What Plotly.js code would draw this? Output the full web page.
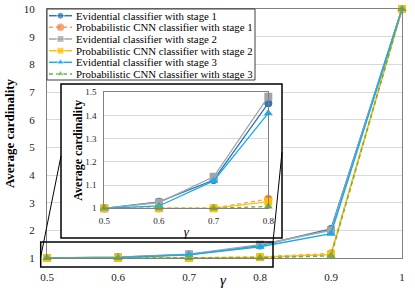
<!DOCTYPE html>
<html>
<head>
<meta charset="utf-8">
<script src="https://cdn.plot.ly/plotly-3.0.1.min.js"></script>
<style>html,body{margin:0;padding:0;background:#fff;}#chart{width:415px;height:296px;}</style>
</head>
<body>
<div id="chart"></div>
<script>
// ---- data ----
const gamma = [0.5, 0.6, 0.7, 0.8, 0.9, 1.0];
const gammaLabels = ["0.5", "0.6", "0.7", "0.8", "0.9", "1"];
const seriesNames = [
  "Evidential classifier with stage 1",
  "Probabilistic CNN classifier with stage 1",
  "Evidential classifier with stage 2",
  "Probabilistic CNN classifier with stage 2",
  "Evidential classifier with stage 3",
  "Probabilistic CNN classifier with stage 3"
];
const evidentialStage1 = [1.0, 1.028, 1.122, 1.453, 2.05, 10];
const probabilisticStage1 = [1.0, 1.0, 1.001, 1.040, 1.16, 10];
const evidentialStage2 = [1.0, 1.025, 1.136, 1.481, 2.0, 10];
const probabilisticStage2 = [1.0, 1.0, 1.0, 1.029, 1.13, 10];
const evidentialStage3 = [1.0, 1.010, 1.118, 1.410, 1.88, 10];
const probabilisticStage3 = [1.0, 1.0, 1.0, 1.008, 1.08, 10];
const insetGamma = [0.5, 0.6, 0.7, 0.8];
const insetLabels = ["0.5", "0.6", "0.7", "0.8"];
const mainYTicks = [1, 2, 3, 4, 5, 6, 7, 8, 9, 10];
const mainYLabels = ["1", "2", "3", "4", "5", "6", "7", "8", "9", "10"];
const insetYTicks = [1, 1.1, 1.2, 1.3, 1.4, 1.5];
const insetYLabels = ["1", "1.1", "1.2", "1.3", "1.4", "1.5"];
const xTitle = "γ";
const yTitle = "Average cardinality";

// ---- styles ----
const allSeries = [evidentialStage1, probabilisticStage1, evidentialStage2, probabilisticStage2, evidentialStage3, probabilisticStage3];
const styles = [
  {color: "#2e75b6", symbol: "circle", dash: "solid"},
  {color: "#f4a06a", symbol: "circle", dash: "4px,3px", mcolor: "#ed7d31"},
  {color: "#a5a5a5", symbol: "square", dash: "solid"},
  {color: "#ffc000", symbol: "square", dash: "solid"},
  {color: "#16aaf0", symbol: "triangle-up", dash: "solid"},
  {color: "#70ad47", symbol: "triangle-up", dash: "4px,3px"}
];

const W = 415, H = 296, ML = 47, MR = 13, MT = 9, MB = 38;
const PW = W - ML - MR, PH = H - MT - MB;
const px = x => (x - ML) / PW;
const py = y => (H - MB - y) / PH;
const serif = "'Liberation Serif', 'Times New Roman', serif";

const traces = [];
allSeries.forEach((vals, i) => {
  const s = styles[i];
  traces.push({
    x: gamma, y: vals, xaxis: "x", yaxis: "y", type: "scatter", mode: "lines+markers",
    name: seriesNames[i], showlegend: false, cliponaxis: false, hoverinfo: "skip",
    line: {color: s.color, width: 1.5, dash: s.dash},
    marker: {color: s.mcolor || s.color, symbol: s.symbol, size: 8}
  });
});
// inset traces
allSeries.forEach((vals, i) => {
  const s = styles[i];
  traces.push({
    x: insetGamma, y: vals.slice(0, insetGamma.length), xaxis: "x3", yaxis: "y3", type: "scatter", mode: "lines+markers",
    name: seriesNames[i], showlegend: false, cliponaxis: false, hoverinfo: "skip",
    line: {color: s.color, width: 1.3, dash: s.dash},
    marker: {color: s.mcolor || s.color, symbol: s.symbol, size: 8}
  });
});
// cover subplot (white background for the inset box)
traces.push({x: [0], y: [0], xaxis: "x2", yaxis: "y2", type: "scatter", mode: "markers", marker: {opacity: 0}, showlegend: false, hoverinfo: "skip"});
// legend glyphs on a pixel-scaled legend subplot
const rowY = [15.7, 27.3, 39, 50.7, 62.3, 74];
seriesNames.forEach((n, i) => {
  const s = styles[i];
  traces.push({
    x: [49, 60.5, 72], y: [rowY[i], rowY[i], rowY[i]], xaxis: "x4", yaxis: "y4", type: "scatter", mode: "lines+markers",
    showlegend: false, hoverinfo: "skip", cliponaxis: false,
    line: {color: s.color, width: 1.5, dash: s.dash},
    marker: {color: s.mcolor || s.color, symbol: s.symbol, size: [0, 7, 0]}
  });
});

const annotations = seriesNames.map((n, i) => ({
  text: n, xref: "paper", yref: "paper", x: px(74), y: py(rowY[i]),
  xanchor: "left", yanchor: "middle", showarrow: false,
  font: {family: serif, size: 10.8, color: "#000"}
}));
// main x-axis title
annotations.push({
  text: "<i>" + xTitle + "</i>", xref: "paper", yref: "paper", x: px(223), y: py(280),
  xanchor: "center", yanchor: "middle", showarrow: false,
  font: {family: serif, size: 15, color: "#000"}
});

const shapes = [
  // legend border
  {type: "rect", xref: "paper", yref: "paper", x0: px(47), x1: px(255), y0: py(80), y1: py(9), line: {color: "#404040", width: 1}, layer: "above"},
  // inset border
  {type: "rect", xref: "paper", yref: "paper", x0: px(61), x1: px(282), y0: py(238), y1: py(84), line: {color: "#000", width: 1.5}, layer: "above"},
  // zoom rectangle
  {type: "rect", xref: "paper", yref: "paper", x0: px(40.7), x1: px(273), y0: py(267), y1: py(242), line: {color: "#000", width: 1.5}, layer: "above"},
  // connector lines
  {type: "line", xref: "paper", yref: "paper", x0: px(40.7), y0: py(257), x1: px(61), y1: py(156), line: {color: "#000", width: 1}, layer: "above"},
  {type: "line", xref: "paper", yref: "paper", x0: px(273), y0: py(242), x1: px(282), y1: py(152), line: {color: "#000", width: 1}, layer: "above"}
];

const layout = {
  width: W, height: H,
  margin: {l: ML, r: MR, t: MT, b: MB},
  paper_bgcolor: "#fff", plot_bgcolor: "#fff",
  showlegend: false,
  font: {family: serif, color: "#000"},
  xaxis: {
    domain: [0, 1], range: [0.5, 1], tickvals: gamma, ticktext: gammaLabels,
    showgrid: false, zeroline: false, showline: true, linecolor: "#808080", linewidth: 1, mirror: true,
    ticks: "outside", ticklen: 9, tickcolor: "rgba(0,0,0,0)",
    tickfont: {family: serif, size: 11, color: "#222"}
  },
  yaxis: {
    domain: [0, 1], range: [1, 10], tickvals: mainYTicks, ticktext: mainYLabels,
    showgrid: true, gridcolor: "#d9d9d9", gridwidth: 1, zeroline: false,
    showline: true, linecolor: "#808080", linewidth: 1, mirror: true,
    ticks: "outside", ticklen: 9, tickcolor: "rgba(0,0,0,0)",
    tickfont: {family: serif, size: 11, color: "#222"},
    title: {text: "<b>" + yTitle + "</b>", font: {family: serif, size: 13, color: "#000"}, standoff: 6}
  },
  xaxis2: {domain: [px(61), px(282)], range: [0, 1], visible: false, anchor: "y2"},
  yaxis2: {domain: [py(238), py(84)], range: [0, 1], visible: false, anchor: "x2"},
  xaxis3: {
    domain: [px(104.3), px(268.3)], range: [0.5, 0.8], anchor: "y3", tickvals: insetGamma, ticktext: insetLabels,
    showgrid: false, zeroline: false, showline: true, linecolor: "#808080", linewidth: 1, mirror: true,
    ticks: "outside", ticklen: 4, tickcolor: "rgba(0,0,0,0)",
    tickfont: {family: serif, size: 9, color: "#222"},
    title: {text: "<i>" + xTitle + "</i>", font: {family: serif, size: 13, color: "#000"}, standoff: 1}
  },
  yaxis3: {
    domain: [py(208.3), py(92.3)], range: [1, 1.5], anchor: "x3", tickvals: insetYTicks, ticktext: insetYLabels,
    showgrid: true, gridcolor: "#d9d9d9", zeroline: false,
    showline: true, linecolor: "#808080", linewidth: 1, mirror: true,
    ticks: "outside", ticklen: 5, tickcolor: "rgba(0,0,0,0)",
    tickfont: {family: serif, size: 9, color: "#222"},
    title: {text: "<b>" + yTitle + "</b>", font: {family: serif, size: 12, color: "#000"}, standoff: 0}
  },
  xaxis4: {domain: [px(47), px(255)], range: [47, 255], visible: false, anchor: "y4"},
  yaxis4: {domain: [py(80), py(9)], range: [80, 9], visible: false, anchor: "x4"},
  annotations: annotations,
  shapes: shapes
};

Plotly.newPlot("chart", traces, layout, {staticPlot: true, displayModeBar: false});
</script>
</body>
</html>
